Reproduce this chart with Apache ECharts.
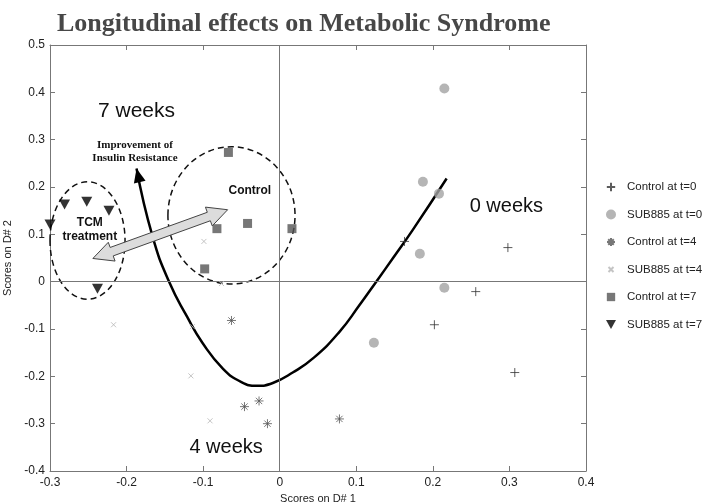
<!DOCTYPE html>
<html>
<head>
<meta charset="utf-8">
<script src="https://cdn.jsdelivr.net/npm/echarts@6/dist/echarts.min.js"></script>
<style>
html, body { margin: 0; padding: 0; background: #fff; }
#chart { width: 703px; height: 502px; }
</style>
</head>
<body>
<div id="chart"></div>
<script>
// scores on discriminant 1 / 2
var control0 = [[0.163, 0.085], [0.298, 0.072], [0.256, -0.021], [0.202, -0.091], [0.307, -0.192]]
var sub0 = [[0.215, 0.408], [0.187, 0.211], [0.208, 0.186], [0.183, 0.059], [0.215, -0.013], [0.123, -0.129]]
var control4 = [[-0.063, -0.082], [-0.046, -0.264], [-0.027, -0.252], [-0.016, -0.300], [0.078, -0.290]]
var sub4 = [[-0.099, 0.085], [-0.076, -0.004], [-0.217, -0.091], [-0.114, -0.095], [-0.116, -0.199], [-0.091, -0.294]]
var control7 = [[-0.067, 0.273], [-0.082, 0.112], [-0.042, 0.123], [0.016, 0.112], [-0.098, 0.027]]
var sub7 = [[-0.281, 0.163], [-0.252, 0.169], [-0.223, 0.150], [-0.300, 0.121], [-0.238, -0.015]]

// trajectory 7 weeks -> 4 weeks -> 0 weeks (first point is the arrow tip)
var trajectory = [[-0.187, 0.239], [-0.166, 0.095], [-0.144, -0.002], [-0.121, -0.074], [-0.101, -0.129],
    [-0.074, -0.184], [-0.050, -0.212], [-0.030, -0.220], [-0.009, -0.214], [0.017, -0.192],
    [0.045, -0.160], [0.078, -0.106], [0.104, -0.050], [0.127, 0.002], [0.148, 0.050],
    [0.174, 0.110], [0.218, 0.218]]

var xTicks = { min: -0.3, max: 0.4, step: 0.1 }
var yTicks = { min: -0.4, max: 0.5, step: 0.1 }

// annotations in data units
var notes = [
    { text: '7 weeks', at: [-0.187, 0.360], font: '21px "Liberation Sans"' },
    { text: '0 weeks', at: [0.296, 0.159], font: '20px "Liberation Sans"' },
    { text: '4 weeks', at: [-0.070, -0.351], font: '20px "Liberation Sans"' },
    { text: 'Improvement of', at: [-0.189, 0.288], font: 'bold 11px "Liberation Serif"' },
    { text: 'Insulin Resistance', at: [-0.189, 0.260], font: 'bold 11px "Liberation Serif"' },
    { text: 'Control', at: [-0.039, 0.192], font: 'bold 12px "Liberation Sans"' },
    { text: 'TCM', at: [-0.248, 0.125], font: 'bold 12px "Liberation Sans"' },
    { text: 'treatment', at: [-0.248, 0.095], font: 'bold 12px "Liberation Sans"' }
]
var groups = [
    { c: [-0.251, 0.087], rx: 0.049, ry: 0.124 },
    { c: [-0.063, 0.140], rx: 0.083, ry: 0.145 }
]
var shift = { from: [-0.244, 0.049], to: [-0.068, 0.152] }

var plus = 'path://M5,0L5,10M0,5L10,5'
var cross = 'path://M0,0L10,10M10,0L0,10'
var star = 'path://M5,0L5,10M0,5L10,5M1.5,1.5L8.5,8.5M8.5,1.5L1.5,8.5'
var downTri = 'path://M0,0L10,0L5,9Z'
// legend icons padded with move-to points so they draw smaller
var plusIcon = 'path://M-1,-1M5,0L5,10M0,5L10,5M11,11'
var starIcon = 'path://M0,0M5,1L5,9M1,5L9,5M2.2,2.2L7.8,7.8M7.8,2.2L2.2,7.8M10,10'
var crossIcon = 'path://M-5,-5M0,0L10,10M10,0L0,10M15,15'
var rectIcon = 'path://M-1,-1M0,0L10,0L10,10L0,10ZM11,11'
var triIcon = 'path://M0,0L10,0L5,9Z'

var chart = echarts.init(document.getElementById('chart'))

function axisCommon(extra) {
    return Object.assign({
        type: 'value',
        min: xTicks.min, max: xTicks.max, interval: xTicks.step,
        splitLine: { show: false },
        axisLine: { show: true, onZero: false, lineStyle: { color: '#777', width: 1 } },
        axisTick: { show: true, inside: true, length: 5, lineStyle: { color: '#777' } },
        axisLabel: { color: '#222', fontSize: 12, fontFamily: 'Liberation Sans' }
    }, extra)
}

function scatter(name, data, symbol, size, style) {
    return {
        name: name, type: 'scatter', data: data, symbol: symbol, symbolSize: size,
        itemStyle: style, clip: false, z: 5
    }
}

chart.setOption({
    animation: false,
    title: {
        text: 'Longitudinal effects on Metabolic Syndrome',
        left: 52, top: 6,
        textStyle: { fontFamily: 'Liberation Serif', fontSize: 26, fontWeight: 'bold', color: '#474747' }
    },
    grid: { left: 50, right: 117, top: 45, bottom: 31, containLabel: false, outerBoundsMode: 'none' },
    legend: {
        orient: 'vertical', left: 605, top: 181, padding: 0,
        itemWidth: 10, itemHeight: 10, itemGap: 15.5,
        textStyle: { fontSize: 11.5, lineHeight: 12, color: '#222', fontFamily: 'Liberation Sans', padding: [0, 0, 0, 6] },
        data: [
            { name: 'Control at t=0', icon: plusIcon },
            { name: 'SUB885 at t=0', icon: 'circle' },
            { name: 'Control at t=4', icon: starIcon },
            { name: 'SUB885 at t=4', icon: crossIcon },
            { name: 'Control at t=7', icon: rectIcon },
            { name: 'SUB885 at t=7', icon: triIcon }
        ]
    },
    xAxis: [
        axisCommon({
            position: 'bottom', name: 'Scores on D# 1', nameLocation: 'middle', nameGap: 18,
            nameTextStyle: { fontSize: 11, color: '#222', fontFamily: 'Liberation Sans' },
            axisLabel: { color: '#222', fontSize: 12, fontFamily: 'Liberation Sans', margin: 6,
                formatter: function (v) { return +v.toFixed(1) } }
        }),
        axisCommon({ position: 'top', axisLabel: { show: false } })
    ],
    yAxis: [
        axisCommon({
            min: yTicks.min, max: yTicks.max, interval: yTicks.step,
            position: 'left', name: 'Scores on D# 2', nameLocation: 'middle', nameGap: 26,
            nameTextStyle: { fontSize: 11, color: '#222', fontFamily: 'Liberation Sans' },
            axisLabel: { color: '#222', fontSize: 12, fontFamily: 'Liberation Sans', margin: 5,
                formatter: function (v) { return +v.toFixed(1) } }
        }),
        axisCommon({ min: yTicks.min, max: yTicks.max, interval: yTicks.step, position: 'right', axisLabel: { show: false } })
    ],
    series: [
        {
            type: 'line', data: trajectory, smooth: 0.5, symbol: 'none', z: 3,
            lineStyle: { color: '#000', width: 2.5 },
            markLine: {
                silent: true, symbol: 'none', label: { show: false },
                lineStyle: { color: '#777', width: 1, type: 'solid' },
                data: [{ xAxis: 0 }, { yAxis: 0 }]
            }
        },
        scatter('Control at t=0', control0, plus, 9, { color: 'transparent', borderColor: '#333', borderWidth: 1 }),
        scatter('SUB885 at t=0', sub0, 'circle', 10, { color: '#a3a3a3' }),
        scatter('Control at t=4', control4, star, 9, { color: 'transparent', borderColor: '#555', borderWidth: 1 }),
        scatter('SUB885 at t=4', sub4, cross, 5, { color: 'transparent', borderColor: '#b5b5b5', borderWidth: 1 }),
        scatter('Control at t=7', control7, 'rect', 9, { color: '#555' }),
        scatter('SUB885 at t=7', sub7, downTri, [11, 10], { color: '#000' })
    ]
})

// annotations placed from data units
function px(p) { return chart.convertToPixel({ gridIndex: 0 }, p) }

function arrowPoly(a, b, shaftW, headL, headW) {
    var dx = b[0] - a[0], dy = b[1] - a[1]
    var len = Math.sqrt(dx * dx + dy * dy)
    var ux = dx / len, uy = dy / len, nx = -uy, ny = ux
    function pt(t, s) { return [a[0] + ux * t + nx * s, a[1] + uy * t + ny * s] }
    return [pt(0, 0), pt(headL, headW), pt(headL, shaftW),
        pt(len - headL, shaftW), pt(len - headL, headW), pt(len, 0),
        pt(len - headL, -headW), pt(len - headL, -shaftW),
        pt(headL, -shaftW), pt(headL, -headW)]
}

var graphics = []
groups.forEach(function (g) {
    var c = px(g.c)
    var e = px([g.c[0] + g.rx, g.c[1] + g.ry])
    graphics.push({
        type: 'ellipse', z: 4,
        shape: { cx: c[0], cy: c[1], rx: e[0] - c[0], ry: c[1] - e[1] },
        style: { fill: 'none', stroke: '#111', lineWidth: 1.5, lineDash: [6, 4] }
    })
})

var s0 = px(shift.from), s1 = px(shift.to)
graphics.push({
    type: 'polygon', z: 6,
    shape: { points: arrowPoly(s0, s1, 4.5, 20, 10) },
    style: { fill: '#dcdcdc', stroke: '#444', lineWidth: 1 }
})

var tip = px(trajectory[0]), back = px(trajectory[1])
var dx = tip[0] - back[0], dy = tip[1] - back[1]
var l = Math.sqrt(dx * dx + dy * dy)
var bx = tip[0] - dx / l * 14, by = tip[1] - dy / l * 14
graphics.push({
    type: 'polygon', z: 6,
    shape: { points: [tip, [bx - dy / l * 6, by + dx / l * 6], [bx + dy / l * 6, by - dx / l * 6]] },
    style: { fill: '#000' }
})

notes.forEach(function (n) {
    var p = px(n.at)
    graphics.push({
        type: 'text', z: 7, x: p[0], y: p[1],
        style: { text: n.text, font: n.font, fill: '#111', align: 'center', verticalAlign: 'middle' }
    })
})

chart.setOption({ graphic: graphics })
</script>
</body>
</html>
